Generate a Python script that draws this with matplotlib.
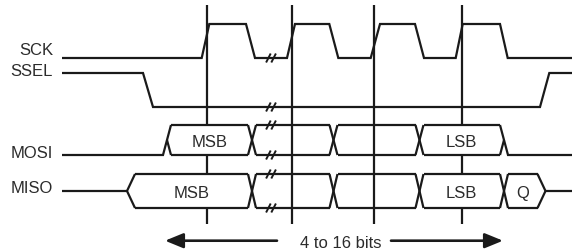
#!/usr/bin/env python3
"""
SPI frame timing diagram: SCK, SSEL, MOSI, MISO.
The horizontal axis is time in drawing units (0..572), rows are stacked top to bottom.
"""

import matplotlib.pyplot as plt
from matplotlib.patches import Polygon

# ---- data -------------------------------------------------------------
signal_names = ["SCK", "SSEL", "MOSI", "MISO"]

# clock edges where data is sampled
sample_marks = [207.3, 291.7, 374.3, 461.7]

# SCK waveform (time, level)
sck_t = [62, 201.7, 209.3, 246, 255, 287, 295, 329.3, 338.3, 370.7, 380,
         415, 424, 455.7, 462.7, 500, 507.7, 572]
sck_lvl = [0, 0, 1, 1, 0, 0, 1, 1, 0, 0, 1, 1, 0, 0, 1, 1, 0, 0]

# SSEL waveform (time, level)
ssel_t = [62, 143, 153, 540, 549.3, 572]
ssel_lvl = [1, 1, 0, 0, 1, 1]

# bus crossings (first = leave idle, last = return to idle) and bit labels
mosi_cross = [167, 252, 333.5, 419.5, 504]
mosi_bits = ["MSB", "", "", "LSB"]
miso_cross = [131, 252, 333.5, 419.5, 504, 541.5]
miso_bits = ["MSB", "", "", "LSB", "Q"]

break_t = 271          # "//" time-break marker
span_from, span_to = 165, 503
span_label = "4 to 16 bits"

# ---- layout -----------------------------------------------------------
W, H = 572, 253
T0, T1 = 62, 572               # start / end of traces
LBL_X = 53
LINE = '#1a1a1a'
TXT = '#2b2b2b'
LW = 1.6
FONT = 'Liberation Sans'
FS = 12
D = 4                          # half width of a bus crossing

rows = {
    # name: (high y, low y, label baseline)
    "SCK": (25, 59, 54.5),
    "SSEL": (74, 108, 75.5),
    "MOSI": (126, 156, 158),
    "MISO": (175, 209, 193),
}


def line(ax, xs, ys, lw=LW, z=3):
    ax.plot(xs, ys, color=LINE, lw=lw, solid_capstyle='butt',
            solid_joinstyle='miter', zorder=z)


def draw_digital(ax, ts, lvls, hi, lo):
    ys = [hi if v else lo for v in lvls]
    line(ax, ts, ys)


def draw_bus(ax, cross, bits, top, bot, idle):
    mid = (top + bot) / 2
    c0, c1 = cross[0], cross[-1]
    # leaving idle
    if idle == 'low':
        line(ax, [T0, c0 - D, c0 + D], [bot, bot, top])
        line(ax, [c0, c0 + D], [mid, bot])
    else:
        line(ax, [T0, c0 - D], [mid, mid])
        line(ax, [c0 + D, c0 - D, c0 + D], [top, mid, bot])
    # returning to idle
    if idle == 'low':
        line(ax, [c1 - D, c1 + D, T1], [top, bot, bot])
        line(ax, [c1 - D, c1], [bot, mid])
    else:
        line(ax, [c1 - D, c1 + D, c1 - D], [top, mid, bot])
        line(ax, [c1 + D, T1], [mid, mid])
    # interior crossings
    for c in cross[1:-1]:
        line(ax, [c - D, c + D], [top, bot])
        line(ax, [c - D, c + D], [bot, top])
    # cells
    for a, b, txt in zip(cross[:-1], cross[1:], bits):
        line(ax, [a + D, b - D], [top, top])
        line(ax, [a + D, b - D], [bot, bot])
        if txt:
            ax.add_patch(Polygon([(a, mid), (a + D, top), (b - D, top),
                                  (b, mid), (b - D, bot), (a + D, bot)],
                                 closed=True, facecolor='white',
                                 edgecolor='none', zorder=2))
            ax.text((a + b) / 2, mid + 6, txt, ha='center', va='baseline',
                    fontsize=FS, family=FONT, color=TXT, zorder=4)


def draw_break(ax, t, y):
    for dx in (-2.6, 2.6):
        x = t + dx
        line(ax, [x - 2.3, x + 2.3], [y + 4.5, y - 4.5], lw=1.4, z=5)


def main():
    fig = plt.figure(figsize=(W / 100, H / 100), dpi=100)
    ax = fig.add_axes([0, 0, 1, 1])
    ax.set_xlim(0, W)
    ax.set_ylim(H, 0)
    ax.axis('off')

    # sampling edges
    for x in sample_marks:
        line(ax, [x, x], [6, 225], z=1)

    hi, lo, _ = rows["SCK"]
    draw_digital(ax, sck_t, sck_lvl, hi, lo)
    hi, lo, _ = rows["SSEL"]
    draw_digital(ax, ssel_t, ssel_lvl, hi, lo)
    top, bot, _ = rows["MOSI"]
    draw_bus(ax, mosi_cross, mosi_bits, top, bot, 'low')
    top, bot, _ = rows["MISO"]
    draw_bus(ax, miso_cross, miso_bits, top, bot, 'mid')

    # time breaks
    draw_break(ax, break_t, rows["SCK"][1])
    draw_break(ax, break_t, rows["SSEL"][1])
    for name in ("MOSI", "MISO"):
        draw_break(ax, break_t, rows[name][0])
        draw_break(ax, break_t, rows[name][1])

    # signal names
    for name in signal_names:
        ax.text(LBL_X, rows[name][2], name, ha='right', va='baseline',
                fontsize=FS, family=FONT, color=TXT)

    # frame length arrow
    ya = 241.7
    ax.text(341, ya + 6, span_label, ha='center', va='baseline',
            fontsize=FS, family=FONT, color=TXT)
    arrow = dict(arrowstyle='-|>,head_length=1.1,head_width=0.45',
                 color=LINE, lw=LW + 0.3, shrinkA=0, shrinkB=0)
    ax.annotate('', xy=(span_from, ya), xytext=(277, ya), arrowprops=arrow)
    ax.annotate('', xy=(span_to, ya), xytext=(391, ya), arrowprops=arrow)

    plt.savefig('out.png', dpi=100)


if __name__ == '__main__':
    main()
